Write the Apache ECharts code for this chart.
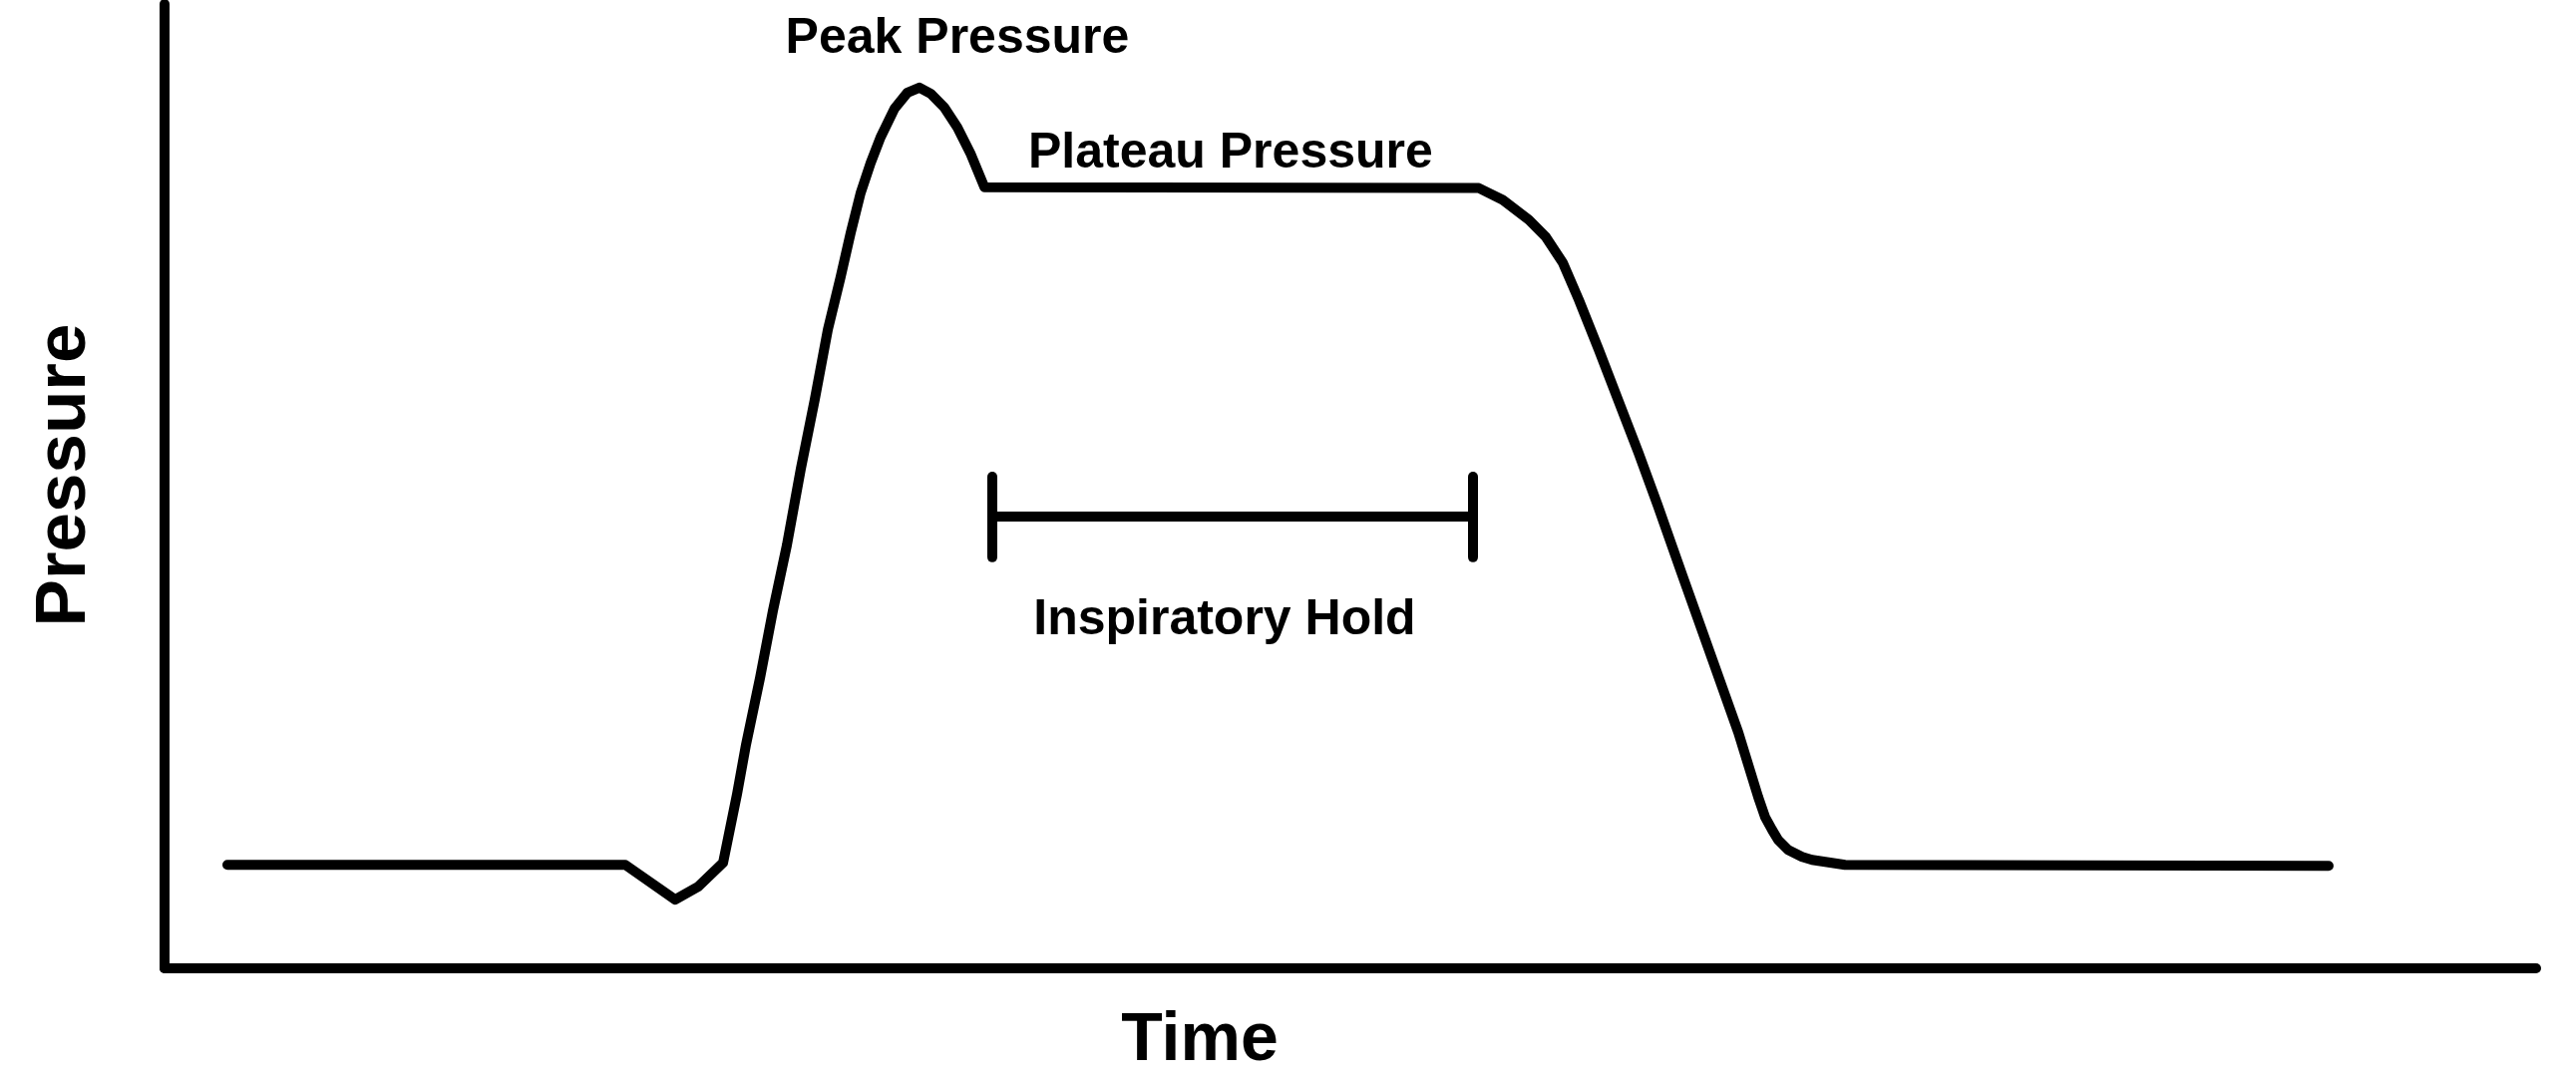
<!DOCTYPE html>
<html>
<head>
<meta charset="utf-8">
<script src="https://cdn.jsdelivr.net/npm/echarts@6/dist/echarts.min.js"></script>
<style>
html,body{margin:0;padding:0;background:#fff;}
#chart{width:2583px;height:1083px;}
</style>
</head>
<body>
<div id="chart"></div>
<script>
// Time (arbitrary units, 0-100) and pressure (arbitrary units, 0-100)
const timeValues = [2.65, 19.43, 21.53, 22.50, 23.55, 24.14, 24.52, 25.11, 25.65, 26.24, 26.83, 27.42, 27.97, 28.51, 28.93, 29.35, 29.77, 30.19, 30.78, 31.33, 31.83, 32.30, 32.88, 33.43, 33.98, 34.57, 55.42, 56.43, 57.53, 58.24, 58.96, 59.63, 60.47, 61.31, 62.15, 62.95, 64.00, 65.27, 66.36, 67.20, 67.49, 67.79, 68.04, 68.46, 69.05, 69.47, 70.86, 91.25];
const pressureValues = [10.73, 10.73, 7.12, 8.46, 10.94, 18.06, 23.22, 30.13, 37.05, 43.86, 51.81, 59.03, 66.25, 71.72, 76.26, 80.39, 83.49, 86.17, 89.16, 90.82, 91.33, 90.71, 89.27, 87.20, 84.52, 81.01, 80.91, 79.67, 77.61, 75.85, 73.17, 69.35, 64.19, 58.82, 53.46, 48.09, 40.76, 31.99, 24.46, 17.75, 15.69, 14.34, 13.31, 12.28, 11.56, 11.25, 10.73, 10.63];

// Inspiratory hold bracket (time start, time end, pressure level, tick top, tick bottom)
const holdStart = 34.90;
const holdEnd = 55.17;
const holdLevel = 46.85;
const holdTickTop = 50.98;
const holdTickBottom = 42.62;

// Annotation texts and their anchor points in data units
const annotationTexts = ['Peak Pressure', 'Plateau Pressure', 'Inspiratory Hold'];
const annotationTimes = [33.43, 44.95, 44.70];
const annotationPressures = [96.40, 84.50, 36.12];

const axisTitles = { x: 'Time', y: 'Pressure' };

const FONT = '"Liberation Sans", Arial, Helvetica, sans-serif';
const chart = echarts.init(document.getElementById('chart'), null, { renderer: 'canvas' });

const curveData = timeValues.map((t, i) => [t, pressureValues[i]]);
const annotationData = annotationTexts.map((txt, i) => ({ name: txt, value: [annotationTimes[i], annotationPressures[i]] }));

const option = {
  animation: false,
  backgroundColor: '#ffffff',
  grid: { left: 165, right: 40, top: 4, bottom: 111, containLabel: false },
  xAxis: {
    type: 'value', min: 0, max: 100,
    name: axisTitles.x, nameLocation: 'middle', nameGap: 39,
    nameTextStyle: { fontFamily: FONT, fontWeight: 'bold', fontSize: 68, color: '#000', padding: [0, 302, 0, 0] },
    axisLine: { show: true, lineStyle: { color: '#000', width: 10, cap: 'round' } },
    axisTick: { show: false }, axisLabel: { show: false }, splitLine: { show: false }
  },
  yAxis: {
    type: 'value', min: 0, max: 100,
    name: axisTitles.y, nameLocation: 'middle', nameGap: 64, nameRotate: 90,
    nameTextStyle: { fontFamily: FONT, fontWeight: 'bold', fontSize: 71, color: '#000', padding: [0, 0, 0, 22] },
    axisLine: { show: true, lineStyle: { color: '#000', width: 10, cap: 'round' } },
    axisTick: { show: false }, axisLabel: { show: false }, splitLine: { show: false }
  },
  series: [
    {
      name: 'Pressure',
      type: 'line',
      data: curveData,
      smooth: false,
      symbol: 'none',
      lineStyle: { color: '#000', width: 10, cap: 'round', join: 'round' },
      z: 3
    },
    {
      name: 'Inspiratory Hold',
      type: 'lines',
      coordinateSystem: 'cartesian2d',
      polyline: false,
      lineStyle: { color: '#000', width: 10, cap: 'round', opacity: 1, curveness: 0 },
      data: [
        { coords: [[holdStart, holdLevel], [holdEnd, holdLevel]] },
        { coords: [[holdStart, holdTickTop], [holdStart, holdTickBottom]] },
        { coords: [[holdEnd, holdTickTop], [holdEnd, holdTickBottom]] }
      ],
      z: 3
    },
    {
      name: 'Annotations',
      type: 'scatter',
      data: annotationData,
      symbolSize: 1,
      itemStyle: { color: '#ffffff', opacity: 1 },
      label: {
        show: true, position: 'inside',
        formatter: p => p.name,
        fontFamily: FONT, fontWeight: 'bold', fontSize: 50, color: '#000000',
        textBorderWidth: 0, opacity: 1
      },
      labelLayout: { hideOverlap: false },
      z: 4
    }
  ]
};
chart.setOption(option);
</script>
</body>
</html>
